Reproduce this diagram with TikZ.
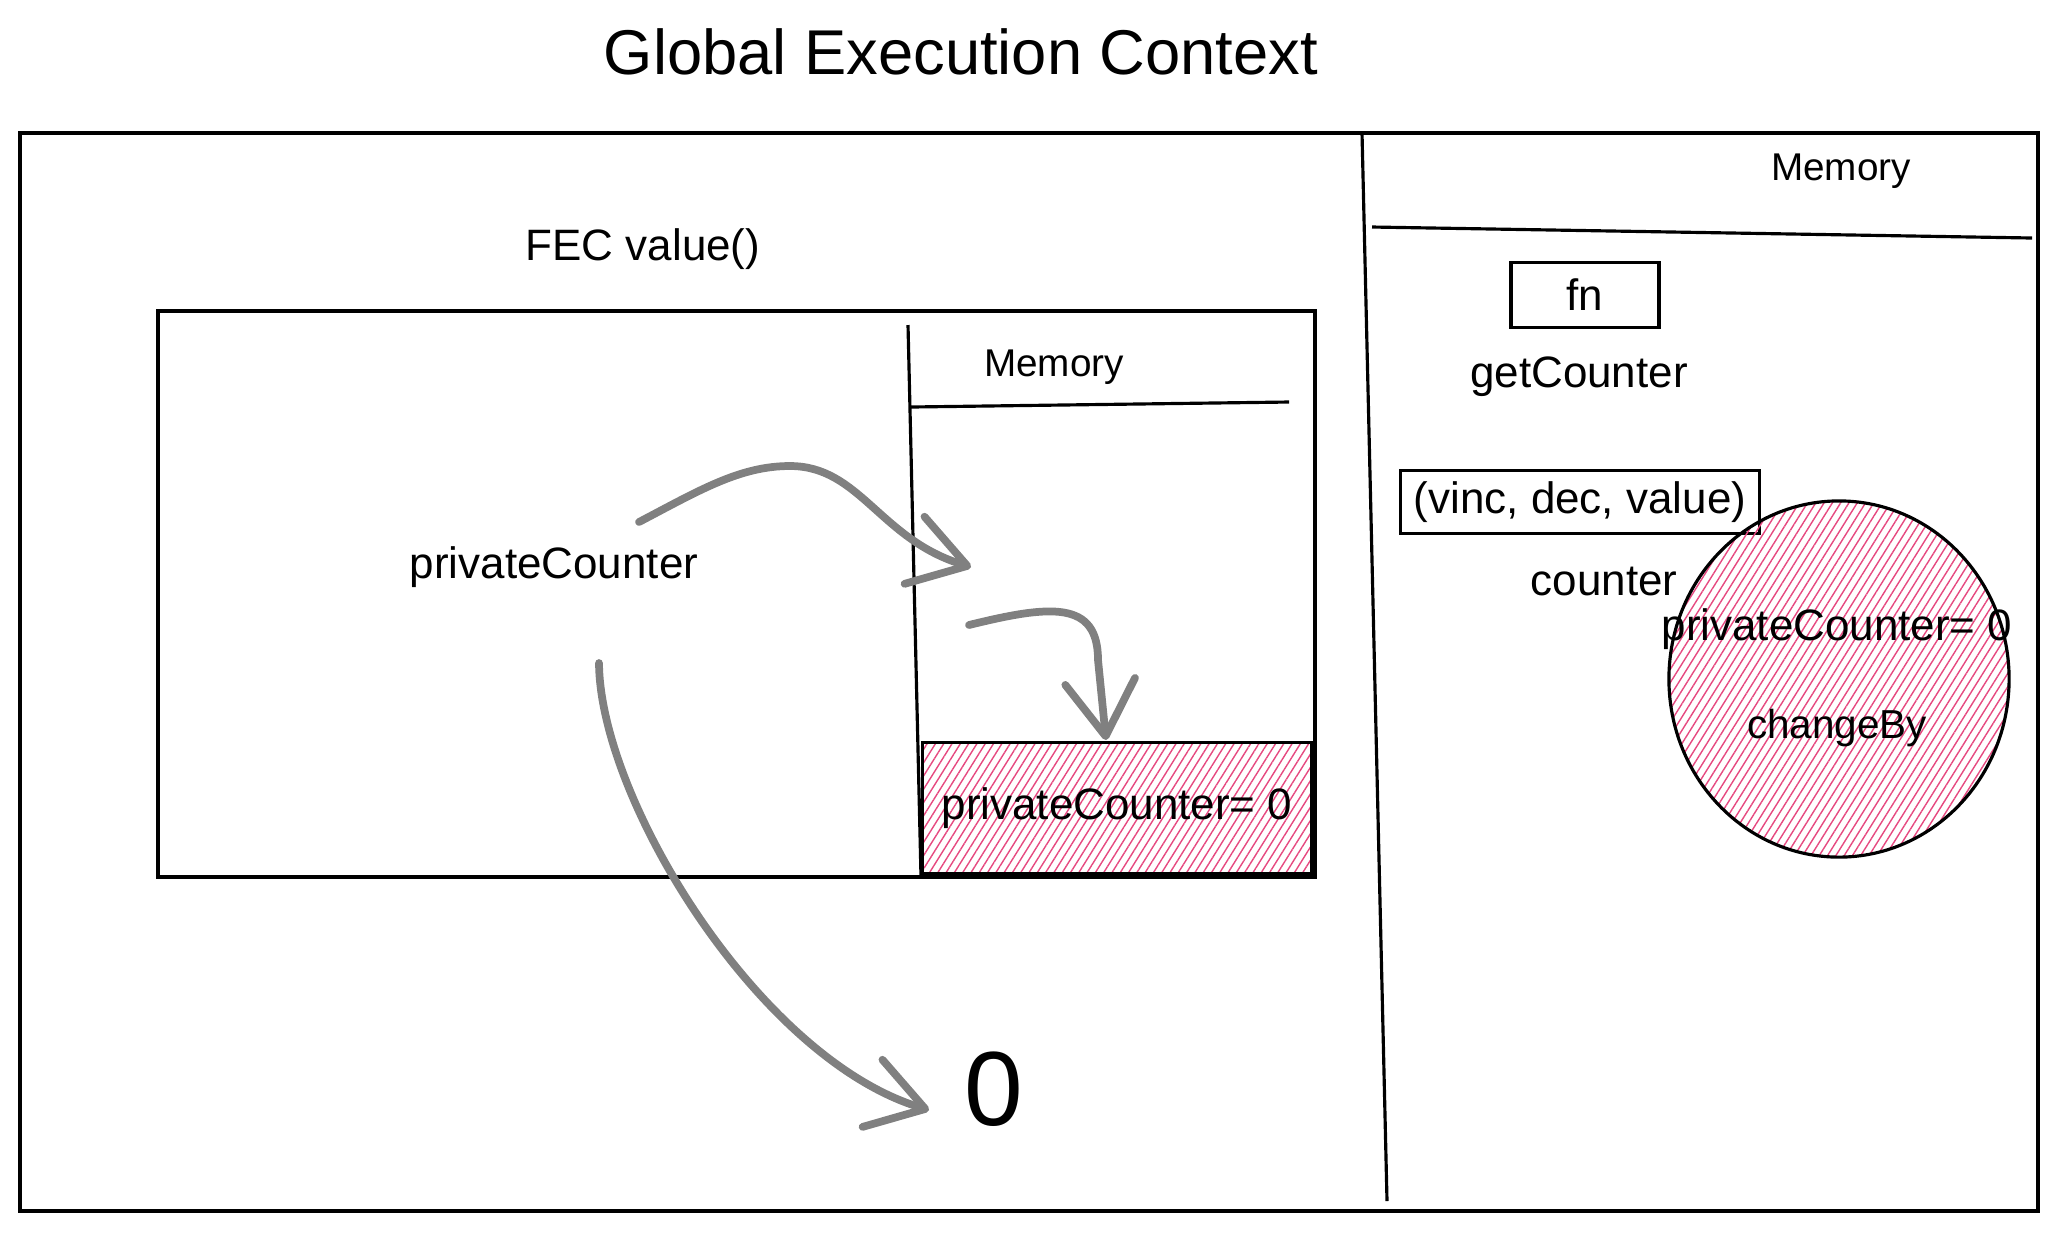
\documentclass[tikz,border=0pt]{standalone}
\usepackage{fontspec}
\setmainfont{Liberation Sans}
\usepackage{tikz}
\usetikzlibrary{arrows.meta,patterns.meta}
\definecolor{hatchpink}{HTML}{E64980}
\definecolor{arrowgray}{HTML}{808080}

\begin{document}
\begin{tikzpicture}[x=0.01cm,y=-0.01cm,
    box/.style={draw,line width=0.9pt},
    lbl/.style={font=\fontsize{12.5}{15}\selectfont},
    hatch/.style={pattern={Lines[angle=58,distance=2pt,line width=0.4pt]},pattern color=hatchpink},
    garrow/.style={draw=arrowgray,line width=2.2pt,line cap=round,-{Straight Barb[round,length=5.5mm,width=7mm]}}]
    \useasboundingbox (0,0) rectangle (2058,1232);
    \coordinate (O1) at (20,133);  \coordinate (O2) at (2038,1211);
    \coordinate (F1) at (158,311); \coordinate (F2) at (1315,877);
    \draw[box] (O1) rectangle (O2);
    \draw[box] (1362,133) -- (1387,1201);
    \draw[box] (1372,227) -- (2032,238);
    \draw[box] (F1) rectangle (F2);
    \draw[box] (908,325) -- (921,877);
    \draw[box] (911,407) -- (1289,402);
    \node[font=\fontsize{18}{22}\selectfont] (T) at (961,52) {Global Execution Context};
    \node[lbl] (FEC) at (643,249) {FEC value()};
    \node[lbl,font=\fontsize{11}{13}\selectfont] (M1) at (1054,367) {Memory};
    \node[lbl] (PC) at (554,567) {privateCounter};
    \node[box,hatch,lbl,minimum width=3.88cm,minimum height=1.31cm] (PB) at (1117,808) {privateCounter= 0};
    \node[font=\fontsize{30}{36}\selectfont] (Z) at (994,1089) {0};
    \node[lbl,font=\fontsize{11}{13}\selectfont] (M2) at (1841,171) {Memory};
    \node[box,lbl,minimum width=1.48cm,minimum height=0.65cm] (FN) at (1585,295) {fn};
    \node[lbl] (GC) at (1579,377) {getCounter};
    \node[box,lbl,minimum width=3.59cm,minimum height=0.63cm,inner sep=1pt] (VDV) at (1580,502) {(vinc, dec, value)};
    \node[lbl] (CT) at (1604,581) {counter};
    \draw[box,hatch] (1839,679) ellipse [x radius=1.7cm,y radius=1.78cm];
    \node[lbl] (PC2) at (1837,629) {privateCounter= 0};
    \node[lbl,font=\fontsize{11.5}{14}\selectfont] (CB) at (1837,728) {changeBy};
    \coordinate (a1) at (639,522); \coordinate (a2) at (971,567);
    \coordinate (b1) at (969,625); \coordinate (b2) at (1106,740);
    \coordinate (c1) at (599,663); \coordinate (c2) at (929,1110);
    \draw[garrow] (a1) .. controls (700,490) and (740,466) .. (790,466) .. controls (860,466) and (880,540) .. (a2);
    \draw[garrow] (b1) .. controls (1050,605) and (1098,600) .. (1098,660) -- (b2);
    \draw[garrow] (c1) .. controls (600,800) and (760,1060) .. (c2);
\end{tikzpicture}
\end{document}
